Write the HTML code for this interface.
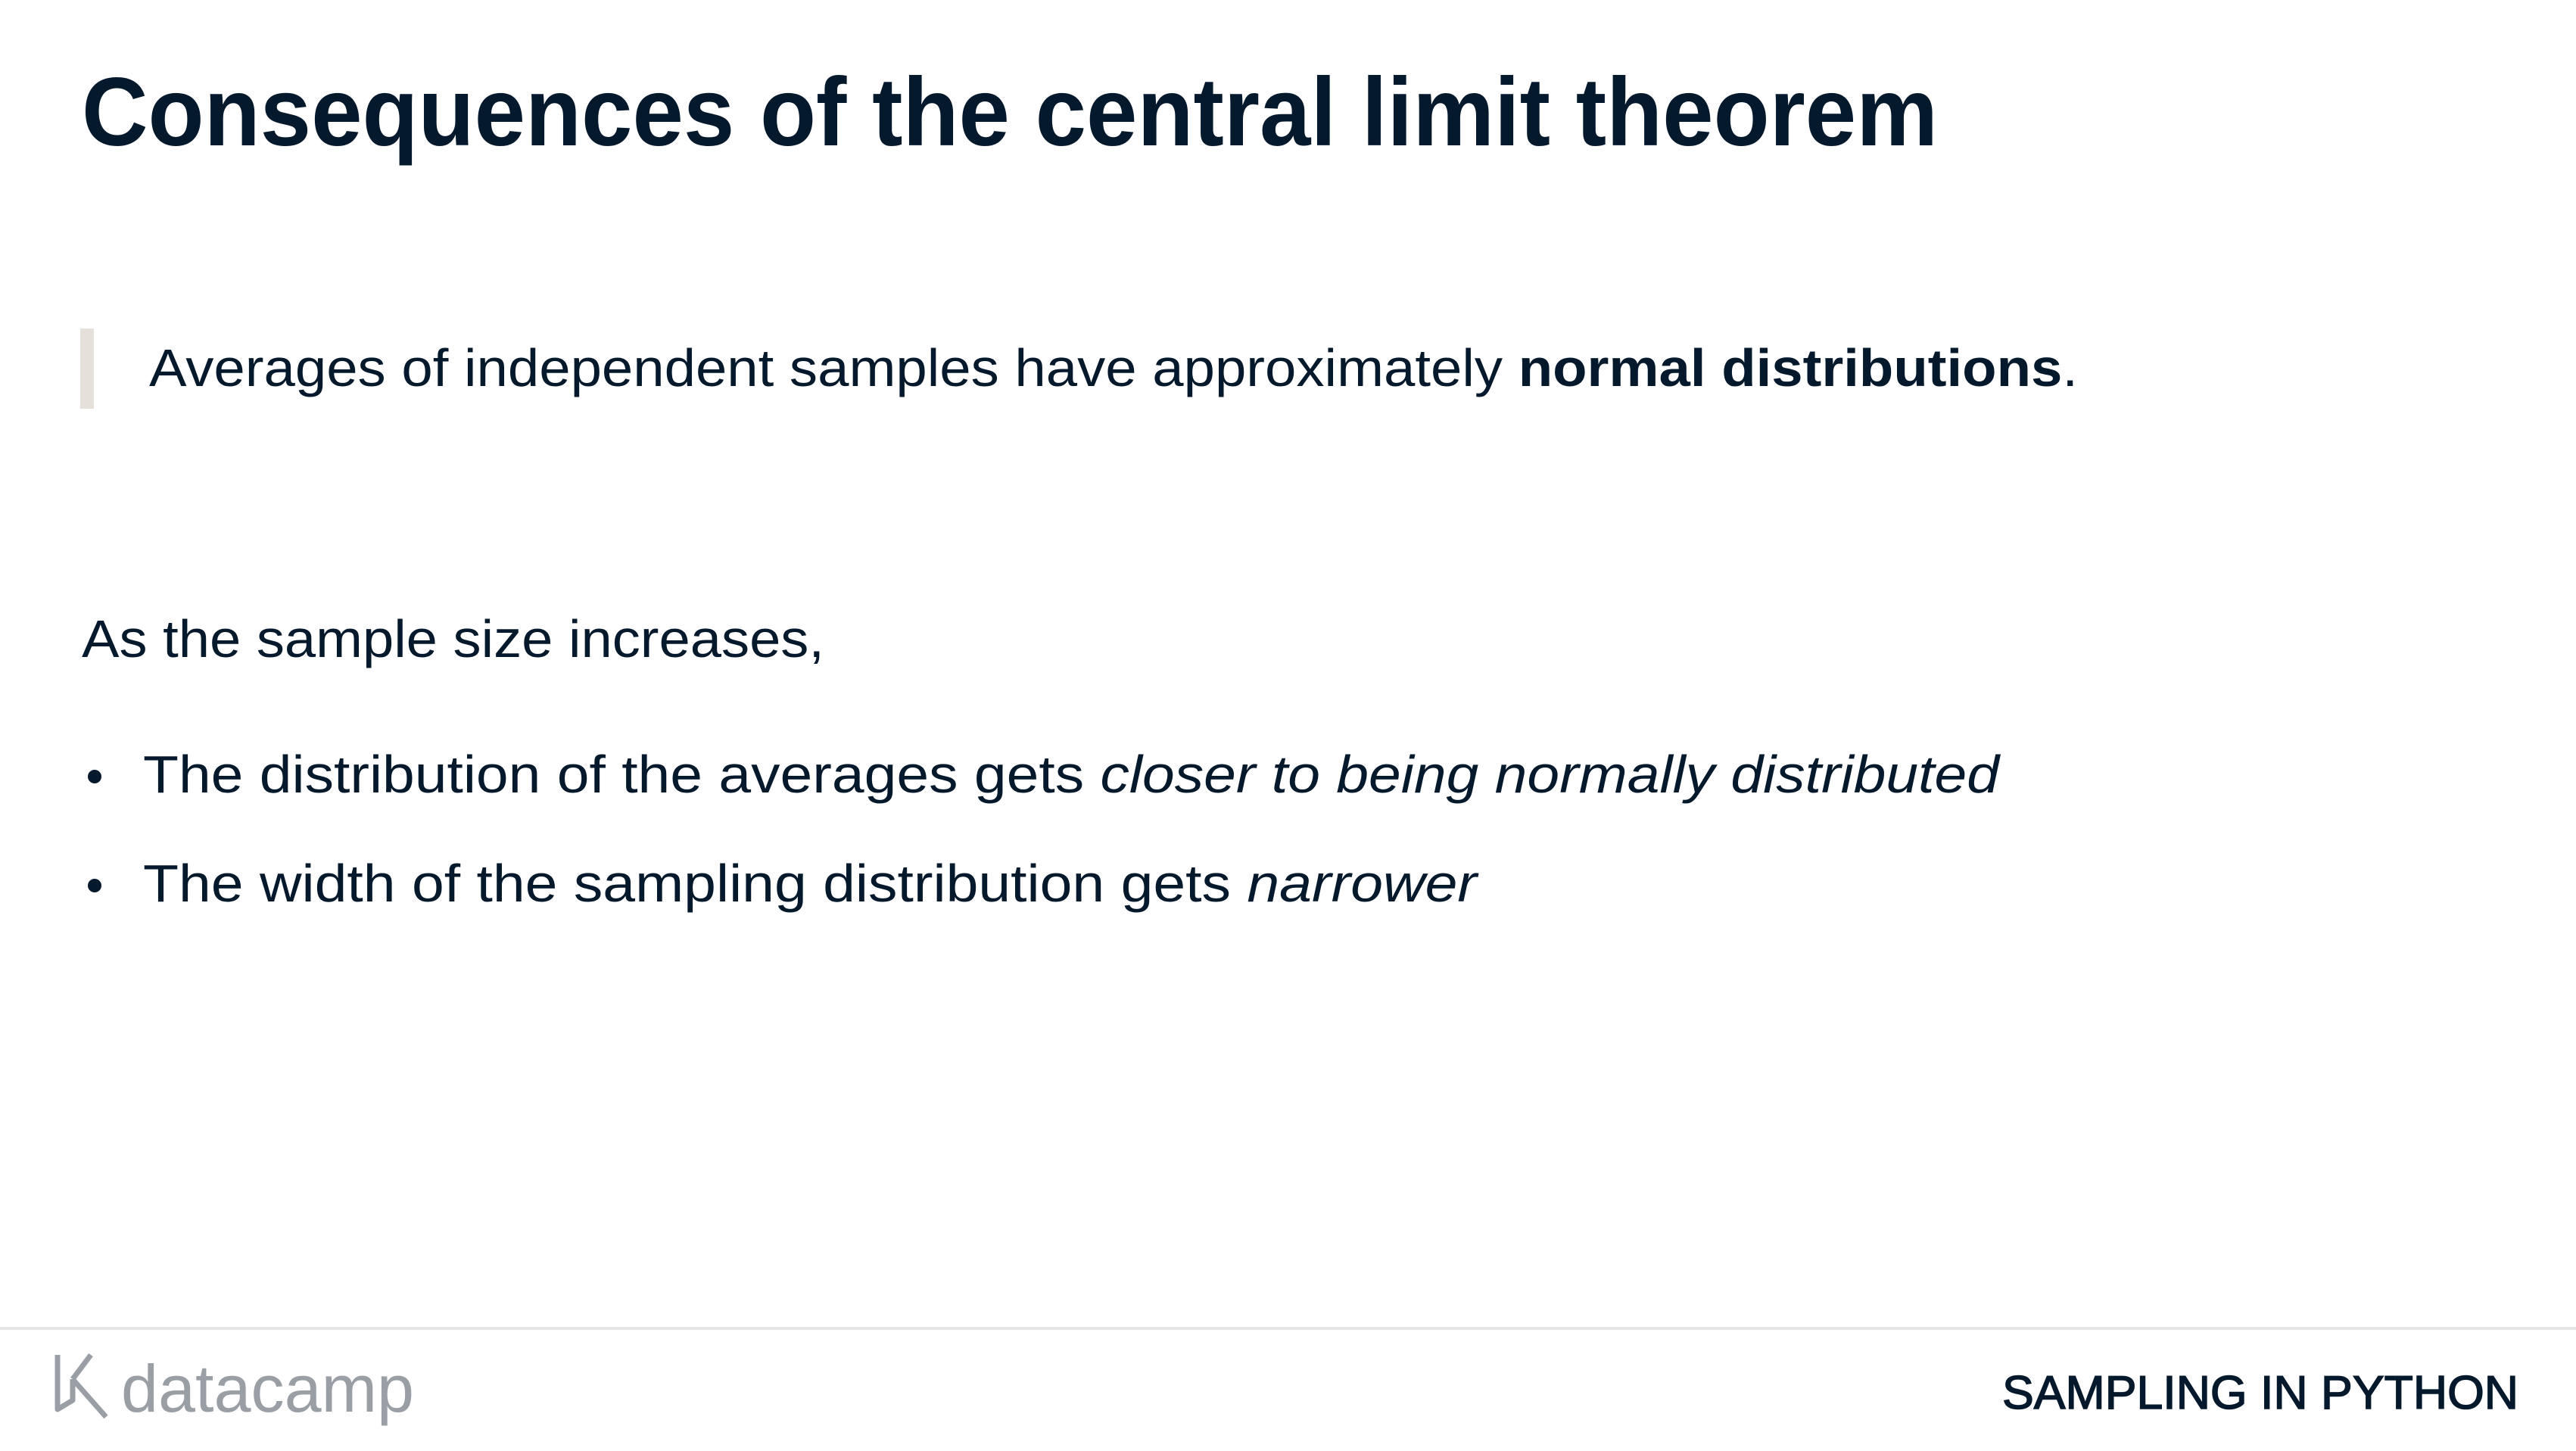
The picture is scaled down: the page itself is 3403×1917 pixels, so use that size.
<!DOCTYPE html>
<html><head><meta charset="utf-8"><style>
html,body{margin:0;padding:0;background:#fff;}
svg{display:block;}
text{font-family:"Liberation Sans",sans-serif;fill:#05192d;}
</style></head><body>
<svg width="3403" height="1917" viewBox="0 0 3403 1917">
<rect width="3403" height="1917" fill="#fff"/>
<text x="108" y="192" font-size="128" font-weight="bold" textLength="2452" lengthAdjust="spacingAndGlyphs">Consequences of the central limit theorem</text>
<rect x="106" y="434" width="18" height="106" fill="#e5e1da"/>
<text x="197" y="510" font-size="70" textLength="2548" lengthAdjust="spacingAndGlyphs">Averages of independent samples have approximately <tspan font-weight="bold">normal distributions</tspan>.</text>
<text x="108" y="868" font-size="70" textLength="981" lengthAdjust="spacingAndGlyphs">As the sample size increases,</text>
<circle cx="125" cy="1026" r="9" fill="#05192d"/>
<text x="189" y="1047" font-size="70" textLength="2452" lengthAdjust="spacingAndGlyphs">The distribution of the averages gets <tspan font-style="italic">closer to being normally distributed</tspan></text>
<circle cx="125" cy="1170" r="9" fill="#05192d"/>
<text x="189" y="1191" font-size="70" textLength="1762" lengthAdjust="spacingAndGlyphs">The width of the sampling distribution gets <tspan font-style="italic">narrower</tspan></text>
<rect x="0" y="1753" width="3403" height="4" fill="#e5e5e5"/>
<g>
<path d="M76 1790 L76 1862 L96 1850 L96 1822 M96 1822 L120 1790 M96 1822 L140 1872" stroke="#9a9fa6" stroke-width="7" fill="none" stroke-linejoin="round"/>
<text x="160" y="1865" font-size="88" style="fill:#9a9fa6" textLength="387" lengthAdjust="spacingAndGlyphs">datacamp</text>
</g>
<text x="3327" y="1861" font-size="62" text-anchor="end" stroke="#05192d" stroke-width="1.5" textLength="682" lengthAdjust="spacingAndGlyphs">SAMPLING IN PYTHON</text>
</svg>
</body></html>
